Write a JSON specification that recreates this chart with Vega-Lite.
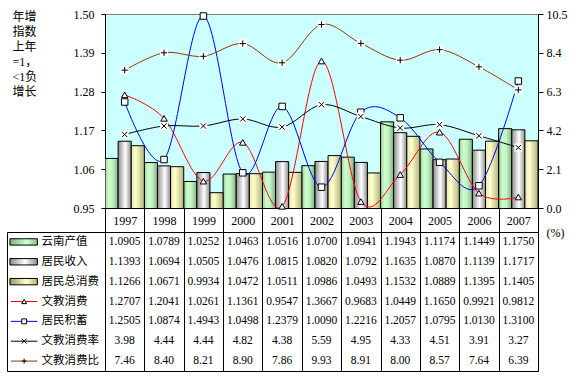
{
  "$schema": "https://vega.github.io/schema/vega-lite/v6.json",
  "padding": {"left": 6, "top": 7, "right": 4, "bottom": 2},
  "config": {
    "font": "Liberation Serif, Noto Sans CJK SC",
    "view": {"stroke": null},
    "axis": {"labelFont": "Liberation Serif", "labelFontSize": 12, "labelColor": "#000000", "tickColor": "#000000", "domainColor": "#000000", "grid": false, "titleFontWeight": "normal", "titleColor": "#000000"}
  },
  "datasets": {
    "d": [
      {"year": 1997, "series": "云南产值", "value": 1.0905}, {"year": 1998, "series": "云南产值", "value": 1.0789}, {"year": 1999, "series": "云南产值", "value": 1.0252}, {"year": 2000, "series": "云南产值", "value": 1.0463}, {"year": 2001, "series": "云南产值", "value": 1.0516}, {"year": 2002, "series": "云南产值", "value": 1.0700}, {"year": 2003, "series": "云南产值", "value": 1.0941}, {"year": 2004, "series": "云南产值", "value": 1.1943}, {"year": 2005, "series": "云南产值", "value": 1.1174}, {"year": 2006, "series": "云南产值", "value": 1.1449}, {"year": 2007, "series": "云南产值", "value": 1.1750},
      {"year": 1997, "series": "居民收入", "value": 1.1393}, {"year": 1998, "series": "居民收入", "value": 1.0694}, {"year": 1999, "series": "居民收入", "value": 1.0505}, {"year": 2000, "series": "居民收入", "value": 1.0476}, {"year": 2001, "series": "居民收入", "value": 1.0815}, {"year": 2002, "series": "居民收入", "value": 1.0820}, {"year": 2003, "series": "居民收入", "value": 1.0792}, {"year": 2004, "series": "居民收入", "value": 1.1635}, {"year": 2005, "series": "居民收入", "value": 1.0870}, {"year": 2006, "series": "居民收入", "value": 1.1139}, {"year": 2007, "series": "居民收入", "value": 1.1717},
      {"year": 1997, "series": "居民总消费", "value": 1.1266}, {"year": 1998, "series": "居民总消费", "value": 1.0671}, {"year": 1999, "series": "居民总消费", "value": 0.9934}, {"year": 2000, "series": "居民总消费", "value": 1.0472}, {"year": 2001, "series": "居民总消费", "value": 1.0511}, {"year": 2002, "series": "居民总消费", "value": 1.0986}, {"year": 2003, "series": "居民总消费", "value": 1.0493}, {"year": 2004, "series": "居民总消费", "value": 1.1532}, {"year": 2005, "series": "居民总消费", "value": 1.0889}, {"year": 2006, "series": "居民总消费", "value": 1.1395}, {"year": 2007, "series": "居民总消费", "value": 1.1405},
      {"year": 1997, "series": "文教消费", "value": 1.2707}, {"year": 1998, "series": "文教消费", "value": 1.2041}, {"year": 1999, "series": "文教消费", "value": 1.0261}, {"year": 2000, "series": "文教消费", "value": 1.1361}, {"year": 2001, "series": "文教消费", "value": 0.9547}, {"year": 2002, "series": "文教消费", "value": 1.3667}, {"year": 2003, "series": "文教消费", "value": 0.9683}, {"year": 2004, "series": "文教消费", "value": 1.0449}, {"year": 2005, "series": "文教消费", "value": 1.1650}, {"year": 2006, "series": "文教消费", "value": 0.9921}, {"year": 2007, "series": "文教消费", "value": 0.9812},
      {"year": 1997, "series": "居民积蓄", "value": 1.2505}, {"year": 1998, "series": "居民积蓄", "value": 1.0874}, {"year": 1999, "series": "居民积蓄", "value": 1.4943}, {"year": 2000, "series": "居民积蓄", "value": 1.0498}, {"year": 2001, "series": "居民积蓄", "value": 1.2379}, {"year": 2002, "series": "居民积蓄", "value": 1.0090}, {"year": 2003, "series": "居民积蓄", "value": 1.2216}, {"year": 2004, "series": "居民积蓄", "value": 1.2057}, {"year": 2005, "series": "居民积蓄", "value": 1.0795}, {"year": 2006, "series": "居民积蓄", "value": 1.0130}, {"year": 2007, "series": "居民积蓄", "value": 1.3100},
      {"year": 1997, "series": "文教消费率", "value": 3.98}, {"year": 1998, "series": "文教消费率", "value": 4.44}, {"year": 1999, "series": "文教消费率", "value": 4.44}, {"year": 2000, "series": "文教消费率", "value": 4.82}, {"year": 2001, "series": "文教消费率", "value": 4.38}, {"year": 2002, "series": "文教消费率", "value": 5.59}, {"year": 2003, "series": "文教消费率", "value": 4.95}, {"year": 2004, "series": "文教消费率", "value": 4.33}, {"year": 2005, "series": "文教消费率", "value": 4.51}, {"year": 2006, "series": "文教消费率", "value": 3.91}, {"year": 2007, "series": "文教消费率", "value": 3.27},
      {"year": 1997, "series": "文教消费比", "value": 7.46}, {"year": 1998, "series": "文教消费比", "value": 8.40}, {"year": 1999, "series": "文教消费比", "value": 8.21}, {"year": 2000, "series": "文教消费比", "value": 8.90}, {"year": 2001, "series": "文教消费比", "value": 7.86}, {"year": 2002, "series": "文教消费比", "value": 9.93}, {"year": 2003, "series": "文教消费比", "value": 8.91}, {"year": 2004, "series": "文教消费比", "value": 8.00}, {"year": 2005, "series": "文教消费比", "value": 8.57}, {"year": 2006, "series": "文教消费比", "value": 7.64}, {"year": 2007, "series": "文教消费比", "value": 6.39}
    ]
  },
  "columns": 2,
  "bounds": "flush",
  "spacing": {"row": 24, "column": 0},
  "resolve": {"scale": {"x": "independent", "y": "independent", "color": "independent", "shape": "independent"}},
  "concat": [
    {
      "width": 98, "height": 194,
      "data": {"values": []},
      "mark": "rule",
      "encoding": {}
    },
    {
      "width": 433, "height": 194,
      "view": {"stroke": "#808080", "fill": "#CCFFFF"},
      "data": {"name": "d"},
      "encoding": {
        "x": {"field": "year", "type": "ordinal", "scale": {"paddingInner": 0, "paddingOuter": 0},
              "axis": {"title": null, "labelAngle": 0, "tickBand": "extent", "tickSize": 24, "labelPadding": -12, "labelBaseline": "middle"}}
      },
      "layer": [
        {
          "encoding": {
            "y": {"field": "value", "type": "quantitative", "scale": {"domain": [0.95, 1.5], "zero": false, "nice": false},
                  "axis": {"values": [0.95, 1.06, 1.17, 1.28, 1.39, 1.5], "format": ".2f", "tickSize": 4, "labelPadding": 7,
                           "title": ["年增", "指数", "上年", "=1，", "<1负", "增长"], "titleAngle": 0, "titleAlign": "left", "titleBaseline": "top",
                           "titleX": -93, "titleY": -3, "titleFont": "Liberation Serif, Noto Sans CJK SC", "titleFontSize": 12, "titleLineHeight": 15}}
          },
          "layer": [
            {
              "transform": [{"filter": {"field": "series", "oneOf": ["云南产值", "居民收入", "居民总消费"]}}],
              "mark": {"type": "bar", "stroke": "#000000", "strokeWidth": 1, "clip": true},
              "encoding": {
                "xOffset": {"field": "series", "type": "nominal", "scale": {"domain": ["云南产值", "居民收入", "居民总消费"], "paddingInner": 0, "paddingOuter": 0}},
                "fill": {
                  "condition": [
                    {"test": "datum.series === '云南产值'", "value": {"gradient": "linear", "x1": 0, "y1": 0, "x2": 1, "y2": 0, "stops": [{"offset": 0, "color": "#99cc99"}, {"offset": 0.3, "color": "#ccffcc"}, {"offset": 0.6, "color": "#c2f2c2"}, {"offset": 1, "color": "#7fae7f"}]}},
                    {"test": "datum.series === '居民收入'", "value": {"gradient": "linear", "x1": 0, "y1": 0, "x2": 1, "y2": 0, "stops": [{"offset": 0, "color": "#8c8c8c"}, {"offset": 0.55, "color": "#ffffff"}, {"offset": 1, "color": "#8c8c8c"}]}}
                  ],
                  "value": {"gradient": "linear", "x1": 0, "y1": 0, "x2": 1, "y2": 0, "stops": [{"offset": 0, "color": "#e6e6b3"}, {"offset": 0.35, "color": "#ffffcc"}, {"offset": 1, "color": "#b3b380"}]}
                }
              }
            },
            {
              "transform": [{"filter": {"field": "series", "oneOf": ["文教消费", "居民积蓄"]}}],
              "mark": {"type": "line", "interpolate": "cardinal", "strokeWidth": 1, "clip": true},
              "encoding": {
                "color": {"field": "series", "type": "nominal", "legend": null,
                          "scale": {"domain": ["文教消费", "居民积蓄", "文教消费率", "文教消费比"], "range": ["#ff0000", "#0000ff", "#000000", "#993300"]}}
              }
            },
            {
              "transform": [{"filter": {"field": "series", "oneOf": ["文教消费", "居民积蓄"]}}],
              "mark": {"type": "point", "filled": true, "fill": "#ffffff", "stroke": "#000000", "strokeWidth": 1, "opacity": 1, "size": 42},
              "encoding": {
                "shape": {"field": "series", "type": "nominal", "legend": null,
                          "scale": {"domain": ["文教消费", "居民积蓄"], "range": ["triangle-up", "square"]}}
              }
            }
          ]
        },
        {
          "transform": [{"filter": {"field": "series", "oneOf": ["文教消费率", "文教消费比"]}}],
          "encoding": {
            "y": {"field": "value", "type": "quantitative", "scale": {"domain": [0, 10.5], "zero": true, "nice": false},
                  "axis": {"orient": "right", "values": [0, 2.1, 4.2, 6.3, 8.4, 10.5], "format": ".1f", "tickSize": 5, "labelPadding": 3,
                           "title": "(%)", "titleAngle": 0, "titleAlign": "left", "titleBaseline": "middle", "titleX": 8, "titleY": 218,
                           "titleFont": "Liberation Serif", "titleFontSize": 12}}
          },
          "layer": [
            {
              "mark": {"type": "line", "interpolate": "cardinal", "strokeWidth": 1, "clip": true},
              "encoding": {
                "color": {"field": "series", "type": "nominal", "legend": null,
                          "scale": {"domain": ["文教消费", "居民积蓄", "文教消费率", "文教消费比"], "range": ["#ff0000", "#0000ff", "#000000", "#993300"]}}
              }
            },
            {
              "mark": {"type": "point", "shape": "square", "filled": true, "fill": "#ffffff", "strokeWidth": 0, "opacity": 1, "size": 64}
            },
            {
              "transform": [{"filter": {"field": "series", "equal": "文教消费率"}}],
              "mark": {"type": "point", "shape": "M-1,-1L1,1M-1,1L1,-1", "filled": false, "stroke": "#000000", "strokeWidth": 1, "opacity": 1, "size": 28}
            },
            {
              "transform": [{"filter": {"field": "series", "equal": "文教消费比"}}],
              "mark": {"type": "point", "shape": "M-1,0L1,0M0,-1L0,1", "filled": false, "stroke": "#000000", "strokeWidth": 1, "opacity": 1, "size": 40}
            }
          ]
        }
      ],
      "resolve": {"scale": {"y": "independent"}}
    },
    {
      "width": 98, "height": 139,
      "view": {"stroke": "#000000"},
      "data": {"name": "d"},
      "transform": [{"aggregate": [{"op": "count", "as": "n"}], "groupby": ["series"]}],
      "encoding": {
        "y": {"field": "series", "type": "nominal",
              "scale": {"domain": ["云南产值", "居民收入", "居民总消费", "文教消费", "居民积蓄", "文教消费率", "文教消费比"], "paddingInner": 0, "paddingOuter": 0},
              "axis": {"title": null, "domain": false, "ticks": false, "labelAlign": "left", "labelPadding": -34, "labelFont": "Noto Sans CJK SC", "labelFontSize": 11.5}}
      },
      "layer": [
        {
          "transform": [{"filter": {"field": "series", "oneOf": ["云南产值", "居民收入", "居民总消费"]}}],
          "mark": {"type": "bar", "stroke": "#000000", "strokeWidth": 1, "height": {"band": 0.32}},
          "encoding": {
            "x": {"datum": 0.03, "type": "quantitative", "scale": {"domain": [0, 1], "nice": false}, "axis": null},
            "x2": {"datum": 0.31},
            "fill": {
              "condition": [
                {"test": "datum.series === '云南产值'", "value": {"gradient": "linear", "x1": 0, "y1": 0, "x2": 1, "y2": 0, "stops": [{"offset": 0, "color": "#7fae7f"}, {"offset": 0.6, "color": "#ccffcc"}, {"offset": 1, "color": "#8fbf8f"}]}},
                {"test": "datum.series === '居民收入'", "value": {"gradient": "linear", "x1": 0, "y1": 0, "x2": 1, "y2": 0, "stops": [{"offset": 0, "color": "#8c8c8c"}, {"offset": 0.55, "color": "#ffffff"}, {"offset": 1, "color": "#8c8c8c"}]}}
              ],
              "value": {"gradient": "linear", "x1": 0, "y1": 0, "x2": 1, "y2": 0, "stops": [{"offset": 0, "color": "#999966"}, {"offset": 0.6, "color": "#ffffcc"}, {"offset": 1, "color": "#b3b380"}]}
            }
          }
        },
        {
          "transform": [{"filter": {"field": "series", "oneOf": ["文教消费", "居民积蓄", "文教消费率", "文教消费比"]}}],
          "mark": {"type": "rule", "strokeWidth": 1},
          "encoding": {
            "x": {"datum": 0.04, "type": "quantitative", "scale": {"domain": [0, 1], "nice": false}, "axis": null},
            "x2": {"datum": 0.31},
            "color": {"field": "series", "type": "nominal", "legend": null,
                      "scale": {"domain": ["文教消费", "居民积蓄", "文教消费率", "文教消费比"], "range": ["#ff0000", "#0000ff", "#000000", "#993300"]}}
          }
        },
        {
          "transform": [{"filter": {"field": "series", "oneOf": ["文教消费", "居民积蓄", "文教消费率", "文教消费比"]}}],
          "mark": {"type": "point", "filled": true, "fill": "#ffffff", "stroke": "#000000", "strokeWidth": 1, "opacity": 1, "size": 24},
          "encoding": {
            "x": {"datum": 0.175, "type": "quantitative"},
            "shape": {"field": "series", "type": "nominal", "legend": null,
                      "scale": {"domain": ["文教消费", "居民积蓄", "文教消费率", "文教消费比"], "range": ["triangle-up", "square", "M-1,-1L1,1M-1,1L1,-1", "M-1,0L1,0M0,-1L0,1"]}}
          }
        }
      ]
    },
    {
      "width": 433, "height": 139,
      "view": {"stroke": "#000000"},
      "data": {"name": "d"},
      "mark": {"type": "text", "font": "Liberation Serif", "fontSize": 11.5, "color": "#000000", "baseline": "middle"},
      "encoding": {
        "x": {"field": "year", "type": "ordinal", "scale": {"paddingInner": 0, "paddingOuter": 0},
              "axis": {"title": null, "labels": false, "ticks": false, "domain": false, "grid": true, "gridColor": "#000000", "gridWidth": 1, "gridOpacity": 1, "tickBand": "extent"}},
        "y": {"field": "series", "type": "nominal",
              "scale": {"domain": ["云南产值", "居民收入", "居民总消费", "文教消费", "居民积蓄", "文教消费率", "文教消费比"], "paddingInner": 0, "paddingOuter": 0},
              "axis": null},
        "text": {
          "condition": {"test": "datum.series === '文教消费率' || datum.series === '文教消费比'", "field": "value", "type": "quantitative", "format": ".2f"},
          "field": "value", "type": "quantitative", "format": ".4f"
        }
      }
    }
  ]
}
